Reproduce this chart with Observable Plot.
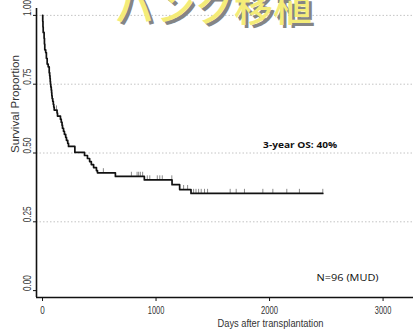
<!DOCTYPE html>
<html>
<head>
<meta charset="utf-8">
<script src="https://cdn.jsdelivr.net/npm/d3@7"></script>
<script src="https://cdn.jsdelivr.net/npm/@observablehq/plot@0.6"></script>
<style>
  html, body { margin: 0; padding: 0; background: #fff; }
  #wrap { position: relative; width: 413px; height: 336px; overflow: hidden; }
  #wrap svg { display: block; }
  #title {
    position: absolute; left: 115px; top: -15px;
    font-family: "Noto Sans CJK JP", sans-serif; font-weight: 500;
    font-size: 39px; line-height: 1; white-space: nowrap;
    color: #f4ec78; text-shadow: 3px 3px 0 #858585;
  }
</style>
</head>
<body>
<div id="wrap"><div id="title">バンク移植</div></div>
<script>
// Kaplan–Meier step points (day of drop, survival after drop)
const kmDays = [0,2,4,6,14,17,20,28,34,41,50,59,63,66,68,70,73,77,80,82,85,90,95,99,103,128,132,158,165,172,176,185,193,204,211,222,229,285,370,396,415,430,450,475,484,642,897,1141,1208,1308,2469];
const kmSurv = [1.000,0.979,0.958,0.938,0.917,0.896,0.875,0.865,0.844,0.823,0.813,0.792,0.781,0.771,0.760,0.750,0.740,0.729,0.719,0.708,0.698,0.688,0.677,0.667,0.656,0.645,0.634,0.623,0.612,0.601,0.590,0.579,0.568,0.557,0.546,0.535,0.524,0.502,0.491,0.480,0.469,0.458,0.447,0.436,0.428,0.415,0.402,0.385,0.367,0.353,0.353];
// censoring times (days)
const censorDays = [123,536,783,833,847,862,882,923,945,1011,1033,1055,1139,1243,1278,1331,1352,1375,1398,1427,1454,1653,1706,1779,1941,2029,2152,2263,2469];
const xTicks = [0,1000,2000,3000];
const yTicks = [0,0.25,0.5,0.75,1];
const yGrid = [0.25,0.5,0.75,1];
const xDomain = [-53, 3268];
const yDomain = [-0.025, 1.025];
const osNote = [{t: 2269, s: 0.53, label: "3-year OS: 40%"}];
const nNote = [{t: 2687, s: 0.045, label: "N=96 (MUD)"}];

const km = kmDays.map((t, i) => ({t, s: kmSurv[i]}));
const bis = d3.bisector(d => d.t).right;
const censor = censorDays.map(t => ({t, s: km[Math.max(0, bis(km, t) - 1)].s}));

const axisFont = "Liberation Sans, Arial, sans-serif";
const svg = Plot.plot({
  width: 413, height: 336,
  marginTop: 8, marginBottom: 39, marginLeft: 36, marginRight: 0,
  x: {domain: xDomain, ticks: xTicks, tickSize: 4, tickFormat: () => "", label: null},
  y: {domain: yDomain, ticks: yTicks, tickSize: 3, tickFormat: () => "", label: null},
  style: {color: "#111"},
  marks: [
    Plot.ruleY(yGrid, {stroke: "#c4c4c4", strokeWidth: 1, strokeDasharray: "1.5,2"}),
    Plot.ruleX([xDomain[0]], {stroke: "#111", strokeWidth: 1.6}),
    Plot.ruleY([yDomain[0]], {stroke: "#111", strokeWidth: 1.6}),
    Plot.ruleX(censor, {x: "t", y1: "s", y2: d => d.s + 0.015, stroke: "#8a8a8a", strokeWidth: 1}),
    Plot.line(km, {x: "t", y: "s", curve: "step-after", stroke: "#111", strokeWidth: 1.7}),
    Plot.text(xTicks, {x: d => d, frameAnchor: "bottom", dy: 16, text: d => String(d),
      fontSize: 10.5, fontFamily: axisFont, fill: "#333"}),
    Plot.text(yTicks, {y: d => d, frameAnchor: "left", dx: -9, dy: 0.5, rotate: -90, text: d => d3.format(".2f")(d),
      fontSize: 10, fontFamily: axisFont, fill: "#333"}),
    Plot.text(["Survival Proportion"], {frameAnchor: "left", dx: -21, rotate: -90, text: d => d,
      fontSize: 10, fontFamily: axisFont, fill: "#333"}),
    Plot.text(["Days after transplantation"], {frameAnchor: "bottom", dx: 45.5, dy: 29.5, text: d => d,
      fontSize: 10.5, fontFamily: axisFont, fill: "#333"}),
    Plot.text(osNote, {x: "t", y: "s", text: "label", fontWeight: 700,
      fontSize: 9.5, fontFamily: "Open Sans, sans-serif", fill: "#111"}),
    Plot.text(nNote, {x: "t", y: "s", text: "label", fontWeight: 400,
      fontSize: 9.5, fontFamily: "Open Sans, sans-serif", fill: "#111"})
  ]
});

const widths = {
  "0": 4.5, "1000": 16.5, "2000": 17, "3000": 16.5,
  "0.00": 16, "0.25": 16, "0.50": 16, "0.75": 16, "1.00": 16,
  "Survival Proportion": 98, "Days after transplantation": 106,
  "3-year OS: 40%": 74, "N=96 (MUD)": 62
};
svg.querySelectorAll("text").forEach(t => {
  const w = widths[t.textContent];
  if (w) { t.setAttribute("textLength", w); t.setAttribute("lengthAdjust", "spacingAndGlyphs"); }
});
document.getElementById("wrap").insertBefore(svg, document.getElementById("title"));
</script>
</body>
</html>
